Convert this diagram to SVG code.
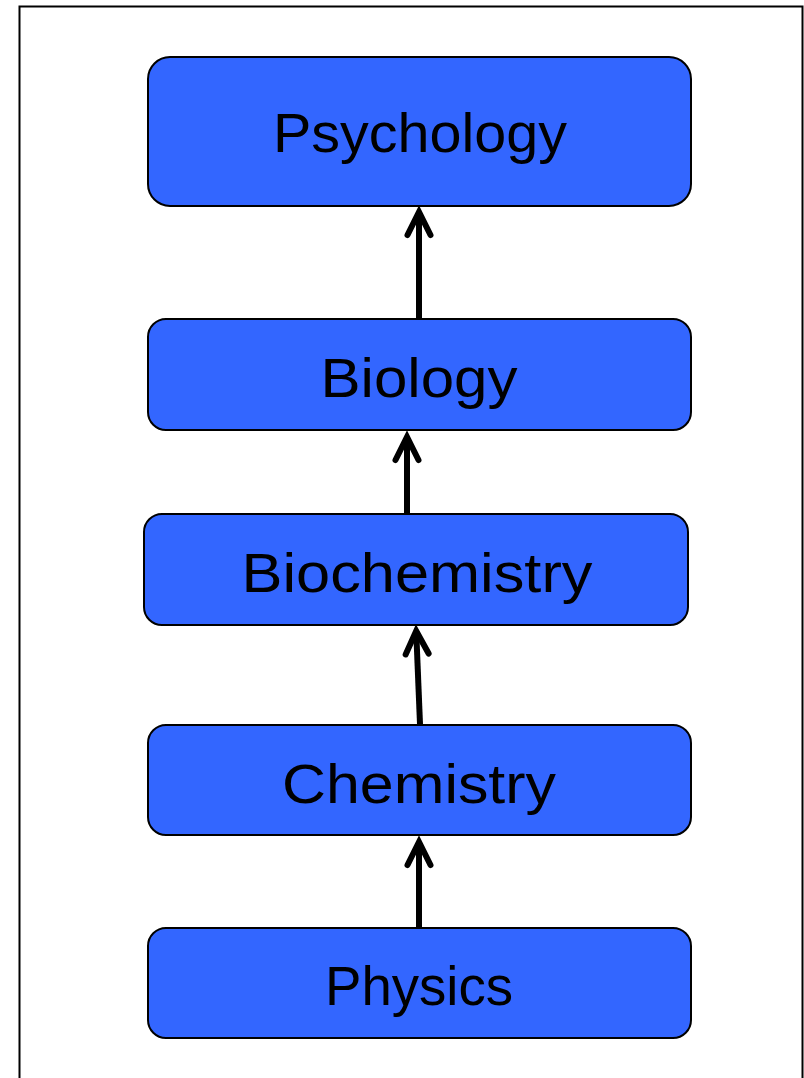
<svg xmlns="http://www.w3.org/2000/svg" width="804" height="1078" viewBox="0 0 804 1078">
<style>
.box{fill:#3366FF;stroke:#000;stroke-width:2}
.lbl{font-family:"Liberation Sans",Arial,sans-serif;font-size:56px;fill:#000;text-anchor:middle}
.conn{stroke:#000;stroke-width:6;fill:none}
</style>
<defs>
<marker id="ah" markerUnits="userSpaceOnUse" markerWidth="40" markerHeight="40" viewBox="-30 -20 40 40" refX="0" refY="0" orient="auto" overflow="visible">
<path d="M -23 -11.5 L 0 0 L -23 11.5" fill="none" stroke="#000" stroke-width="6" stroke-linecap="round" stroke-linejoin="miter"/>
</marker>
</defs>
<rect x="19.5" y="6.5" width="783" height="1085" fill="#fff" stroke="#000" stroke-width="2"/>
<g id="psychology"><rect class="box" x="148" y="57" width="543" height="149" rx="22"/><text class="lbl" x="420" y="152" textLength="294" lengthAdjust="spacingAndGlyphs">Psychology</text></g>
<g id="biology"><rect class="box" x="148" y="319" width="543" height="111" rx="18"/><text class="lbl" x="419" y="397" textLength="197" lengthAdjust="spacingAndGlyphs">Biology</text></g>
<g id="biochemistry"><rect class="box" x="144" y="514" width="544" height="111" rx="18"/><text class="lbl" x="417" y="592" textLength="351" lengthAdjust="spacingAndGlyphs">Biochemistry</text></g>
<g id="chemistry"><rect class="box" x="148" y="725" width="543" height="110" rx="18"/><text class="lbl" x="419" y="803" textLength="274" lengthAdjust="spacingAndGlyphs">Chemistry</text></g>
<g id="physics"><rect class="box" x="148" y="928" width="543" height="110" rx="18"/><text class="lbl" x="419" y="1005" textLength="188" lengthAdjust="spacingAndGlyphs">Physics</text></g>
<g id="connectors">
<path class="conn" d="M 419 318 L 419 212" marker-end="url(#ah)"/>
<path class="conn" d="M 407 513 L 407 437" marker-end="url(#ah)"/>
<path class="conn" d="M 420 724 L 416.2 631" marker-end="url(#ah)"/>
<path class="conn" d="M 419 927 L 419 842" marker-end="url(#ah)"/>
</g>
</svg>
